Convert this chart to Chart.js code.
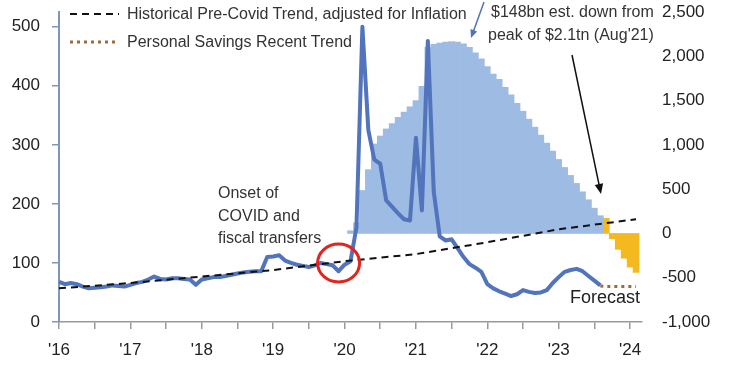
<!DOCTYPE html>
<html>
<head>
<meta charset="utf-8">
<script src="https://cdn.jsdelivr.net/npm/chart.js@4.4.1/dist/chart.umd.min.js"></script>
<style>
    body { margin: 0; background: #fff; }
    #wrap { position: relative; width: 739px; height: 369px; overflow: hidden; }
    .note { position: absolute; font-family: 'Liberation Sans', Arial, sans-serif; font-size: 16px; line-height: 16px; color: #333; white-space: nowrap; }
</style>
</head>
<body>
<div id="wrap">
    <canvas id="chart" width="739" height="369"></canvas>
    <div class="note" style="left:127px; top:6px;">Historical Pre-Covid Trend, adjusted for Inflation</div>
    <div class="note" style="left:127px; top:34px;">Personal Savings Recent Trend</div>
    <div class="note" style="left:491px; top:4px;">$148bn est. down from</div>
    <div class="note" style="left:488px; top:27px;">peak of $2.1tn (Aug'21)</div>
    <div class="note" style="left:218px; top:182px; line-height:22.5px;">Onset of<br>COVID and<br>fiscal transfers</div>
    <div class="note" style="left:570px; top:288px; font-size:18px; line-height:18px; color:#222;">Forecast</div>
</div>
<script>
const YEAR_TICKS = ["'16", "'17", "'18", "'19", "'20", "'21", "'22", "'23", "'24"];

// one label per month, Jan 2016 .. Mar 2024
const MONTHS = [];
for (let y = 2016; y <= 2024; y++) {
    for (let m = 1; m <= 12; m++) {
        if (y === 2024 && m > 3) break;
        MONTHS.push(`${y}-${String(m).padStart(2, '0')}`);
    }
}

// personal savings, $bn per month (left axis), from Jan 2016
const SAVINGS_START = '2016-01';
const SAVINGS = [
    68, 64, 66, 64, 60, 57, 58, 59, 60, 62, 61, 60,
    63, 66, 68, 72, 77, 73, 72, 74, 74, 73, 72, 63,
    72, 74, 76, 76, 78, 80, 82, 84, 85, 86, 86, 110,
    111, 113, 104, 100, 97, 95, 93, 96, 100, 98, 96, 86,
    97, 103, 160, 500, 325, 275, 268, 206, 195, 184, 174, 172,
    312, 189, 476, 220, 145, 138, 140, 125, 110, 98, 92, 85,
    64, 57, 52, 48, 44, 47, 54, 51, 49, 50, 54, 66,
    76, 85, 88, 90, 86, 78, 70, 62
];

// pre-covid trend, adjusted for inflation (left axis)
const TREND_MONTHS = ['2016-01', '2017-01', '2018-01', '2019-01', '2020-01', '2021-01', '2022-01', '2023-01', '2024-02'];
const TREND = [57, 66, 77, 88, 103, 115, 135, 157, 174];

// personal savings recent trend (left axis)
const RECENT_START = '2023-08';
const RECENT = [61, 60, 60, 60, 60, 60, 60];

// excess savings stock, $bn (right axis)
const EXCESS_START = '2020-02';
const EXCESS = [
    30, 120, 485, 720, 1010, 1100, 1180, 1240, 1310, 1370, 1430,
    1500, 1660, 2100, 2135, 2150, 2160, 2165, 2160, 2140, 2100, 2040, 1970,
    1885, 1800, 1740, 1650, 1565, 1470, 1380, 1290, 1200, 1110, 1020, 930,
    835, 745, 655, 565, 470, 380, 285, 200
];

// forecast of excess savings, $bn (right axis)
const FORECAST_START = '2023-09';
const FORECAST = [170, -60, -180, -280, -380, -440];

const monthSeries = (start, values) => {
    const first = MONTHS.indexOf(start);
    return values.map((v, i) => ({ x: MONTHS[first + i], y: v }));
};
const pointSeries = (months, values) => values.map((v, i) => ({ x: months[i], y: v }));

const FONT = "'Liberation Sans', Arial, sans-serif";
const tickFont = { family: FONT, size: 17 };

// keep the tick labels from pushing the plot area in
const fitVertical = (width) => (s) => {
    s.width = width;
    s.paddingTop = 0;
    s.paddingBottom = 0;
};

const drawArrow = (ctx, x1, y1, x2, y2, color, width, head) => {
    const a = Math.atan2(y2 - y1, x2 - x1);
    ctx.save();
    ctx.strokeStyle = color;
    ctx.fillStyle = color;
    ctx.lineWidth = width;
    ctx.beginPath();
    ctx.moveTo(x1, y1);
    ctx.lineTo(x2 - Math.cos(a) * head * 0.8, y2 - Math.sin(a) * head * 0.8);
    ctx.stroke();
    ctx.beginPath();
    ctx.moveTo(x2, y2);
    ctx.lineTo(x2 - head * Math.cos(a - 0.4), y2 - head * Math.sin(a - 0.4));
    ctx.lineTo(x2 - head * Math.cos(a + 0.4), y2 - head * Math.sin(a + 0.4));
    ctx.closePath();
    ctx.fill();
    ctx.restore();
};

const extras = {
    id: 'extras',
    afterDatasetsDraw(chart) {
        const { ctx, scales } = chart;
        ctx.save();
        // legend samples
        ctx.lineWidth = 2;
        ctx.strokeStyle = '#111';
        ctx.setLineDash([7, 5]);
        ctx.beginPath(); ctx.moveTo(70, 14); ctx.lineTo(119, 14); ctx.stroke();
        ctx.lineWidth = 3;
        ctx.strokeStyle = '#a0693a';
        ctx.setLineDash([3, 4]);
        ctx.beginPath(); ctx.moveTo(70, 42); ctx.lineTo(119, 42); ctx.stroke();
        ctx.setLineDash([]);
        // red circle around the covid onset
        const cx = scales.x.getPixelForValue(MONTHS.indexOf('2019-12'));
        const cy = scales.y.getPixelForValue(100);
        ctx.strokeStyle = '#e3231d';
        ctx.lineWidth = 3;
        ctx.beginPath();
        ctx.ellipse(cx, cy, 21, 19, 0, 0, Math.PI * 2);
        ctx.stroke();
        ctx.restore();
        drawArrow(ctx, 484, 2, 471, 38, '#4f72b8', 1.5, 9);
        drawArrow(ctx, 572, 55, 601, 194, '#111', 1.5, 11);
    }
};

new Chart(document.getElementById('chart'), {
    type: 'bar',
    data: {
        labels: MONTHS,
        datasets: [
            {
                type: 'line',
                data: monthSeries(SAVINGS_START, SAVINGS),
                yAxisID: 'y',
                borderColor: '#5174bd',
                borderWidth: 4,
                pointRadius: 0,
                tension: 0,
                borderJoinStyle: 'round',
                order: 1
            },
            {
                type: 'line',
                data: pointSeries(TREND_MONTHS, TREND),
                yAxisID: 'y',
                borderColor: '#111',
                borderWidth: 2,
                borderDash: [7, 5],
                pointRadius: 0,
                tension: 0,
                order: 0
            },
            {
                type: 'line',
                data: monthSeries(RECENT_START, RECENT),
                yAxisID: 'y',
                borderColor: '#a0693a',
                borderWidth: 3,
                borderDash: [3, 4],
                pointRadius: 0,
                tension: 0,
                order: 0
            },
            {
                data: monthSeries(EXCESS_START, EXCESS),
                yAxisID: 'y2',
                backgroundColor: '#9dbbe3',
                barPercentage: 1,
                categoryPercentage: 1,
                grouped: false,
                order: 3
            },
            {
                data: monthSeries(FORECAST_START, FORECAST),
                yAxisID: 'y2',
                backgroundColor: '#f5b920',
                barPercentage: 1,
                categoryPercentage: 1,
                grouped: false,
                order: 3
            }
        ]
    },
    options: {
        responsive: false,
        animation: false,
        layout: { padding: { top: 12 } },
        plugins: { legend: { display: false }, tooltip: { enabled: false } },
        scales: {
            x: {
                type: 'category',
                offset: false,
                grid: {
                    offset: false,
                    drawOnChartArea: false,
                    tickLength: 7,
                    lineWidth: 1.5,
                    color: (c) => (c.index % 6 === 0 ? '#999' : 'rgba(0,0,0,0)')
                },
                border: { color: '#999', width: 1.5 },
                ticks: {
                    autoSkip: false,
                    maxRotation: 0,
                    padding: 11,
                    font: tickFont,
                    color: '#222',
                    callback: (v, i) => (i % 12 === 0 ? YEAR_TICKS[i / 12] : '')
                },
                afterFit: (s) => { s.height = 47; }
            },
            y: {
                position: 'left',
                min: 0,
                max: 525,
                grid: { drawOnChartArea: false, tickLength: 7, color: '#8096b8', lineWidth: 1.5 },
                border: { color: '#8096b8', width: 2 },
                ticks: { stepSize: 100, includeBounds: false, padding: 12, font: tickFont, color: '#222' },
                afterFit: fitVertical(59)
            },
            y2: {
                position: 'right',
                min: -1000,
                max: 2500,
                grid: { display: false, drawTicks: false },
                border: { display: false },
                ticks: {
                    stepSize: 500,
                    padding: 20,
                    font: tickFont,
                    color: '#222',
                    callback: (v) => v.toLocaleString('en-US')
                },
                afterFit: fitVertical(97)
            }
        }
    },
    plugins: [extras]
});
</script>
</body>
</html>
